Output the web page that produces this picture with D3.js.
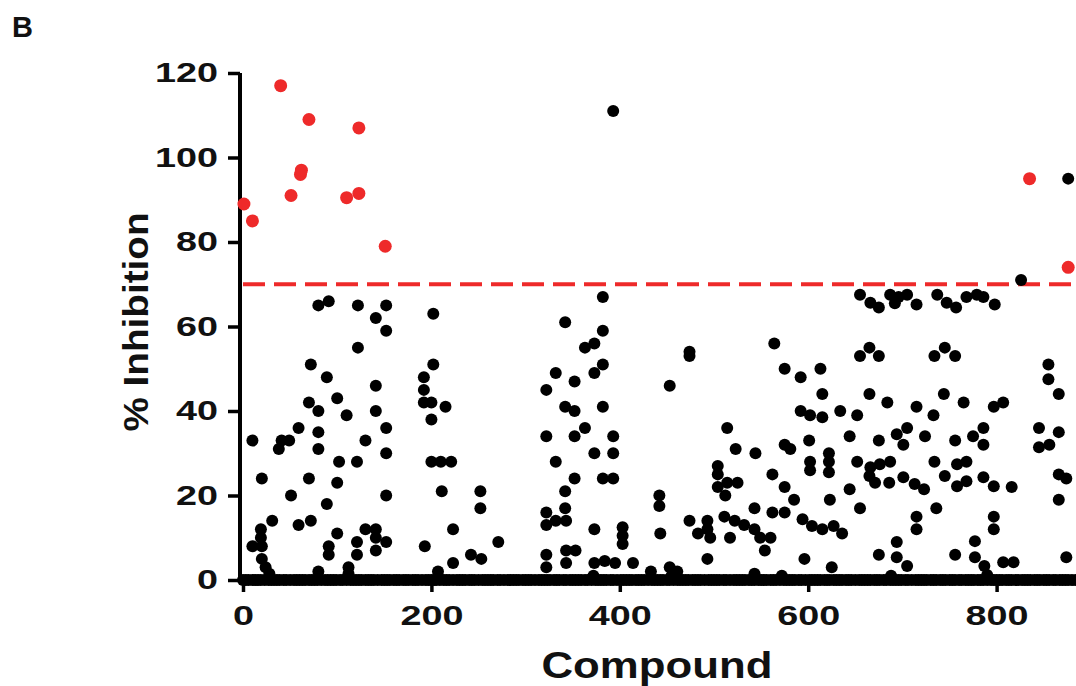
<!DOCTYPE html>
<html>
<head>
<meta charset="utf-8">
<script src="https://cdn.jsdelivr.net/npm/d3@7"></script>
<style>
  body { margin: 0; background: #fff; }
  svg { display: block; }
  text { font-family: "Liberation Sans", Arial, sans-serif; font-weight: bold; fill: #111; }
</style>
</head>
<body>
<svg id="chart" width="1076" height="686"></svg>
<script>
// Hits above the 70% cut-off (red)
const hits = [
  [1, 89], [10, 85], [40, 117], [51, 91], [61, 96], [62, 97], [70, 109],
  [110, 90.5], [123, 91.5], [123, 107], [151, 79], [835, 95], [876, 74]
];

// Other compounds with some inhibition (black), [compound, % inhibition]
const compounds = [
  [80, 65], [91, 66], [122, 65], [152, 65], [141, 62], [152, 59], [202, 63], [122, 55],
  [72, 51], [202, 51], [89, 48], [192, 48], [192, 45], [192, 42], [141, 46], [100, 43],
  [70, 42], [80, 40], [200, 42], [215, 41], [141, 40], [110, 39], [200, 38], [59, 36],
  [80, 35], [152, 36], [10, 33], [41, 33], [49, 33], [38, 31], [130, 33], [80, 31],
  [152, 30], [102, 28], [121, 28], [200, 28], [210, 28], [221, 28], [20, 24], [70, 24],
  [100, 23], [211, 21], [252, 21], [252, 17], [51, 20], [152, 20], [89, 18], [31, 14],
  [59, 13], [72, 14], [19, 12], [19, 10], [10, 8], [20, 8], [20, 5], [24, 3], [100, 11],
  [91, 8], [91, 6], [121, 9], [121, 6], [130, 12], [141, 12], [141, 10], [152, 9], [141, 7],
  [193, 8], [223, 12], [223, 4], [242, 6], [253, 5], [271, 9], [80, 2], [112, 3], [207, 2],
  [393, 111],
  [382, 67], [342, 61], [382, 59], [363, 55], [373, 56], [382, 51], [373, 49], [474, 54],
  [474, 53], [332, 49], [352, 47], [322, 45], [453, 46], [342, 41], [352, 40], [382, 41],
  [564, 56], [514, 36], [363, 36], [322, 34], [352, 34], [393, 34], [373, 30], [393, 30],
  [523, 31], [544, 30], [332, 28], [352, 24], [382, 24], [393, 24], [504, 27], [504, 25],
  [504, 22], [514, 23], [525, 23], [512, 20], [562, 25], [342, 21], [342, 17], [442, 20],
  [442, 17.5], [322, 16], [322, 13], [332, 14], [343, 14], [543, 17], [562, 16], [474, 14],
  [493, 14], [493, 12], [483, 11], [496, 10], [511, 15], [522, 14], [517, 10], [532, 13],
  [543, 12], [549, 10], [560, 10], [322, 6], [322, 3], [343, 7], [353, 7], [343, 4],
  [373, 12], [373, 4], [384, 4.5], [395, 4], [403, 12.5], [403, 10.5], [403, 8.5], [414, 4],
  [443, 11], [493, 5], [554, 7], [433, 2], [453, 3], [461, 2], [543, 1.5],
  [655, 67.5], [666, 65.6], [675, 64.5], [687, 67.5], [692, 65.5], [696, 67], [705, 67.5],
  [715, 65.2], [737, 67.5], [747, 65.6], [757, 64.5], [768, 67], [779, 67.5], [786, 67],
  [798, 65.2], [826, 71], [876, 95],
  [665, 55], [655, 53], [675, 53], [745, 55], [734, 53], [756, 53], [855, 51], [855, 47.5],
  [866, 44], [575, 50], [592, 48], [613, 50], [615, 44], [665, 44], [684, 42], [744, 44],
  [765, 42], [715, 41], [797, 41], [807, 42], [592, 40], [602, 39], [615, 38.5], [634, 40],
  [652, 39], [733, 39], [845, 36], [866, 35], [601, 33], [644, 34], [675, 33], [694, 34.5],
  [705, 36], [701, 32], [724, 34], [756, 33], [775, 34], [786, 36], [786, 32], [845, 31.4],
  [856, 32], [575, 32], [581, 31], [622, 30], [622, 28], [622, 25.5], [602, 28], [602, 26],
  [652, 28], [666, 26.7], [676, 27.4], [687, 28], [734, 28], [758, 27.4], [768, 28],
  [665, 24.6], [671, 23], [686, 23], [701, 24.3], [713, 22.7], [723, 21.5], [745, 24.6],
  [758, 22.2], [768, 23.4], [786, 24.3], [797, 22.2], [816, 22], [866, 25], [874, 24],
  [575, 22], [644, 21.5], [585, 19], [623, 19], [866, 19], [575, 16], [655, 17], [736, 17],
  [594, 14.4], [604, 12.8], [615, 12], [627, 12.8], [636, 11], [715, 15], [715, 12],
  [797, 15], [797, 12], [596, 5], [625, 3], [675, 6], [694, 9], [694, 5.4], [705, 3.3],
  [756, 6], [777, 9.2], [777, 5.4], [787, 3.3], [807, 4.2], [818, 4.2], [874, 5.4],
  [28, 1.5], [112, 1.5], [372, 1], [455, 1], [572, 1], [688, 1], [790, 1.2]
];

// Compounds with no inhibition, drawn on the baseline
const inactive = [
  0, 3, 6, 10, 13, 16, 19, 23, 27, 30, 33, 36, 39, 43, 46, 50, 54, 57, 60, 63, 66, 70,
  73, 76, 79, 83, 87, 90, 93, 96, 99, 103, 106, 110, 114, 117, 120, 123, 126, 130, 133,
  136, 139, 143, 147, 150, 153, 156, 160, 163, 166, 170, 173, 176, 180, 183, 186, 190,
  194, 197, 200, 203, 205, 209, 213, 216, 219, 223, 227, 230, 233, 236, 240, 243, 246,
  250, 254, 257, 260, 263, 266, 270, 273, 277, 281, 284, 287, 290, 293, 297, 300, 303,
  306, 310, 314, 317, 320, 323, 326, 330, 333, 336, 340, 343, 347, 350, 353, 356, 359,
  363, 366, 370, 374, 377, 380, 383, 386, 390, 393, 397, 401, 404, 407, 410, 413, 417,
  420, 423, 426, 430, 434, 437, 440, 443, 446, 450, 453, 457, 461, 464, 467, 470, 473,
  477, 480, 483, 486, 490, 494, 497, 500, 503, 506, 510, 513, 517, 521, 524, 527, 530,
  533, 537, 540, 543, 547, 550, 553, 556, 560, 563, 566, 570, 574, 577, 580, 583, 586,
  590, 593, 597, 601, 604, 607, 610, 613, 617, 620, 623, 627, 630, 633, 636, 640, 643,
  646, 650, 654, 657, 660, 663, 666, 670, 673, 676, 680, 683, 687, 690, 693, 696, 699,
  703, 706, 710, 714, 717, 720, 723, 726, 730, 733, 736, 740, 743, 746, 750, 753, 756,
  760, 763, 767, 770, 773, 776, 780, 783, 786, 790, 794, 797, 800, 803, 806, 810, 813,
  816, 820, 823, 827, 830, 833, 836, 840, 843, 846, 850, 853, 856, 860, 863, 867, 870,
  873, 876, 880, 884
];

const xTicks = [0, 200, 400, 600, 800];
const yTicks = [0, 20, 40, 60, 80, 100, 120];
const cutoff = 70;

const svg = d3.select('#chart');

const x = d3.scaleLinear().domain([0, 900]).range([243, 243 + 900 * 0.942]);
const y = d3.scaleLinear().domain([0, 120]).range([580, 73]);

// panel letter
svg.append('text')
  .attr('x', 12).attr('y', 37)
  .style('font-size', '29px')
  .text('B');

// axes
const yAxis = svg.append('g')
  .attr('transform', 'translate(240,0)')
  .call(d3.axisLeft(y).tickValues(yTicks).tickSize(12).tickSizeOuter(0).tickPadding(10));

const xAxis = svg.append('g')
  .attr('transform', 'translate(0,580)')
  .call(d3.axisBottom(x).tickValues(xTicks).tickSize(12).tickSizeOuter(0).tickPadding(13));

[yAxis, xAxis].forEach(g => {
  g.select('.domain').attr('stroke', '#000').attr('stroke-width', 4);
  g.selectAll('.tick line').attr('stroke', '#000').attr('stroke-width', 3.5);
  g.selectAll('.tick text')
    .attr('fill', '#111')
    .style('font-size', '28px')
    .style('font-family', '"Liberation Sans", Arial, sans-serif')
    .style('font-weight', 'bold')
    .attr('textLength', d => String(d).length * 21)
    .attr('lengthAdjust', 'spacingAndGlyphs');
});
yAxis.select('.domain').attr('d', `M0,${y(0) + 2}V${y(120)}`);
xAxis.select('.domain').attr('d', `M238,0H1076`);

// axis titles
svg.append('text')
  .attr('x', 657).attr('y', 678)
  .attr('text-anchor', 'middle')
  .style('font-size', '36px')
  .attr('textLength', 231)
  .attr('lengthAdjust', 'spacingAndGlyphs')
  .text('Compound');

svg.append('text')
  .attr('transform', 'translate(148,322) rotate(-90)')
  .attr('text-anchor', 'middle')
  .style('font-size', '35px')
  .attr('textLength', 219)
  .attr('lengthAdjust', 'spacingAndGlyphs')
  .text('% Inhibition');

// cut-off line
svg.append('line')
  .attr('x1', 243).attr('x2', 1076)
  .attr('y1', y(cutoff)).attr('y2', y(cutoff))
  .attr('stroke', '#ee2a2a')
  .attr('stroke-width', 4)
  .attr('stroke-dasharray', '22,9');

// points
svg.append('g').selectAll('circle')
  .data(inactive)
  .join('circle')
  .attr('cx', d => x(d))
  .attr('cy', y(0))
  .attr('r', 6)
  .attr('fill', '#000');

svg.append('g').selectAll('circle')
  .data(compounds)
  .join('circle')
  .attr('cx', d => x(d[0]))
  .attr('cy', d => y(d[1]))
  .attr('r', 6)
  .attr('fill', '#000');

svg.append('g').selectAll('circle')
  .data(hits)
  .join('circle')
  .attr('cx', d => x(d[0]))
  .attr('cy', d => y(d[1]))
  .attr('r', 6.5)
  .attr('fill', '#ee2a2a');
</script>
</body>
</html>
